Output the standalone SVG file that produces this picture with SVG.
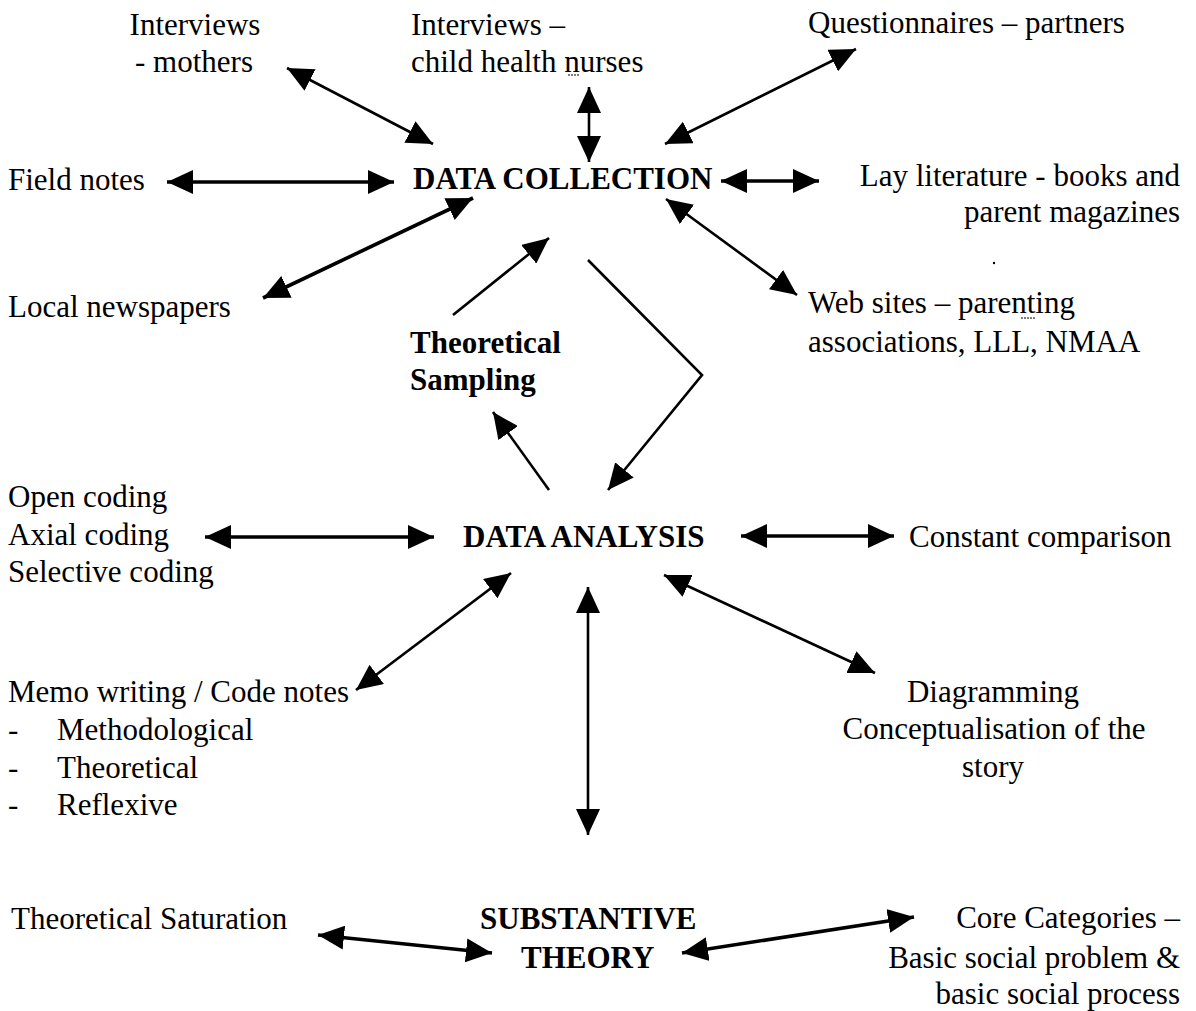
<svg xmlns="http://www.w3.org/2000/svg" width="1196" height="1011" viewBox="0 0 1196 1011">
  <style>
    text { font-family: "Liberation Serif", "Times New Roman", serif; font-size: 31px; fill: #000; }
    .b { font-weight: bold; }
    .mid { text-anchor: middle; }
    .end { text-anchor: end; }
    .c { fill: none; stroke: #000; stroke-width: 2.6; }
    .thick { stroke-width: 3.6; }
    .two { marker-start: url(#head); marker-end: url(#head); }
    .one { marker-end: url(#head); }
    .mark { stroke: #000; stroke-width: 1; stroke-dasharray: 2 1; }
  </style>
  <defs>
    <marker id="head" viewBox="0 0 26 24" refX="26" refY="12" markerWidth="26" markerHeight="24" markerUnits="userSpaceOnUse" orient="auto-start-reverse">
      <path d="M0,0 L26,12 L0,24 Z" fill="#000"/>
    </marker>
  </defs>

  <rect width="1196" height="1011" fill="#fff"/>

  <!-- connectors -->
  <g id="connectors">
    <line class="c two" x1="287" y1="68" x2="433" y2="144"/>
    <line class="c two" x1="589" y1="87" x2="589" y2="162"/>
    <line class="c two" x1="856" y1="49" x2="665" y2="144"/>
    <line class="c thick two" x1="167" y1="182" x2="394" y2="182"/>
    <line class="c thick two" x1="721" y1="181" x2="819" y2="181"/>
    <line class="c thick two" x1="473" y1="198" x2="263" y2="298"/>
    <line class="c two" x1="666" y1="199" x2="797" y2="295"/>
    <line class="c one" x1="453" y1="315" x2="549" y2="238"/>
    <polyline class="c one" points="588,260 702,375 608,490"/>
    <line class="c one" x1="549" y1="490" x2="493" y2="412"/>
    <line class="c thick two" x1="205" y1="537" x2="434" y2="537"/>
    <line class="c thick two" x1="741" y1="536" x2="894" y2="536"/>
    <line class="c two" x1="511" y1="573" x2="356" y2="690"/>
    <line class="c two" x1="588" y1="587" x2="588" y2="835"/>
    <line class="c two" x1="664" y1="575" x2="875" y2="673"/>
    <line class="c thick two" x1="318" y1="935" x2="492" y2="953"/>
    <line class="c thick two" x1="682" y1="953" x2="914" y2="917"/>
  </g>

  <!-- core stages -->
  <g id="data-collection">
    <text class="b" x="413" y="189">DATA COLLECTION</text>
  </g>
  <g id="theoretical-sampling">
    <text class="b" x="410" y="353">Theoretical</text>
    <text class="b" x="410" y="390">Sampling</text>
  </g>
  <g id="data-analysis">
    <text class="b" x="463" y="547">DATA ANALYSIS</text>
  </g>
  <g id="substantive-theory">
    <text class="b" x="480" y="929">SUBSTANTIVE</text>
    <text class="b" x="521" y="968">THEORY</text>
  </g>

  <!-- data sources -->
  <g id="interviews-mothers">
    <text class="mid" x="195" y="35">Interviews</text>
    <text class="mid" x="194" y="72">- mothers</text>
  </g>
  <g id="interviews-nurses">
    <text x="411" y="35">Interviews –</text>
    <text x="411" y="72">child health nurses</text>
    <line class="mark" x1="568" y1="75" x2="580" y2="75"/>
  </g>
  <g id="questionnaires">
    <text x="808" y="33">Questionnaires – partners</text>
  </g>
  <g id="field-notes">
    <text x="8" y="190">Field notes</text>
  </g>
  <g id="lay-literature">
    <text class="end" x="1180" y="186">Lay literature - books and</text>
    <text class="end" x="1180" y="222">parent magazines</text>
    <circle cx="994" cy="263" r="1.2" fill="#000"/>
  </g>
  <g id="local-newspapers">
    <text x="8" y="317">Local newspapers</text>
  </g>
  <g id="web-sites">
    <text x="808" y="313">Web sites – parenting</text>
    <line class="mark" x1="1021" y1="318" x2="1036" y2="318"/>
    <text x="808" y="352">associations, LLL, NMAA</text>
  </g>

  <!-- analysis activities -->
  <g id="coding">
    <text x="8" y="507">Open coding</text>
    <text x="8" y="545">Axial coding</text>
    <text x="8" y="582">Selective coding</text>
  </g>
  <g id="constant-comparison">
    <text x="909" y="547">Constant comparison</text>
  </g>
  <g id="memo-writing">
    <text x="8" y="702">Memo writing / Code notes</text>
    <text x="8" y="740">-</text>
    <text x="57" y="740">Methodological</text>
    <text x="8" y="778">-</text>
    <text x="57" y="778">Theoretical</text>
    <text x="8" y="815">-</text>
    <text x="57" y="815">Reflexive</text>
  </g>
  <g id="diagramming">
    <text class="mid" x="993" y="702">Diagramming</text>
    <text class="mid" x="994" y="739">Conceptualisation of the</text>
    <text class="mid" x="993" y="777">story</text>
  </g>

  <!-- theory outcomes -->
  <g id="theoretical-saturation">
    <text x="11" y="929">Theoretical Saturation</text>
  </g>
  <g id="core-categories">
    <text class="end" x="1180" y="928">Core Categories –</text>
    <text class="end" x="1180" y="968">Basic social problem &amp;</text>
    <text class="end" x="1180" y="1004">basic social process</text>
  </g>
</svg>
